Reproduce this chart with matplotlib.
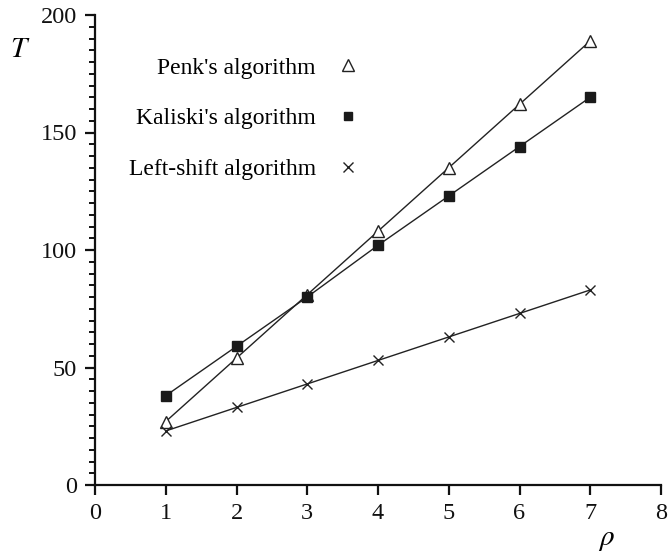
import matplotlib
matplotlib.use("Agg")
import matplotlib.pyplot as plt
from matplotlib.lines import Line2D
from matplotlib.ticker import MultipleLocator

plt.rcParams['font.family'] = ['Liberation Serif', 'DejaVu Serif']
plt.rcParams['mathtext.fontset'] = 'stix'

rho = [1, 2, 3, 4, 5, 6, 7]
penk = [27, 54, 81, 108, 135, 162, 189]
kaliski = [38, 59, 80, 102, 123, 144, 165]
leftshift = [23, 33, 43, 53, 63, 73, 83]
labels = ["Penk's algorithm", "Kaliski's algorithm", "Left-shift algorithm"]
xticks = [0, 1, 2, 3, 4, 5, 6, 7, 8]
yticks = [0, 50, 100, 150, 200]

W, H = 668, 555
fig = plt.figure(figsize=(W / 100, H / 100), dpi=100)
ax = fig.add_axes([95 / W, 1 - 485 / H, (661 - 95) / W, (485 - 15) / H])

lw = 1.0
ax.plot(rho, penk, color='#222222', lw=lw, marker='^', ms=8.5, mfc='white',
        mec='#222222', mew=1.0, clip_on=False, zorder=3)
ax.plot(rho, kaliski, color='#222222', lw=lw, marker='s', ms=6.5, mfc='#1a1a1a',
        mec='#1a1a1a', clip_on=False, zorder=3)
ax.plot(rho, leftshift, color='#222222', lw=lw, marker='x', ms=7.5, mew=1.0,
        mec='#222222', clip_on=False, zorder=3)

ax.set_xlim(0, 8)
ax.set_ylim(0, 200)
ax.set_xticks(xticks)
ax.set_yticks(yticks)
ax.yaxis.set_minor_locator(MultipleLocator(5))
for s in ['top', 'right']:
    ax.spines[s].set_visible(False)
for s in ['left', 'bottom']:
    ax.spines[s].set_linewidth(1.6)
    ax.spines[s].set_color('#111111')
ax.tick_params(axis='both', which='major', direction='out', length=7, width=1.6,
               labelsize=17.5, colors='#111111', pad=6)
ax.tick_params(axis='y', which='minor', direction='out', length=4, width=1.4,
               colors='#111111')

handles = [
    Line2D([], [], ls='none', marker='^', ms=8, mfc='white', mec='#222222', mew=1.0),
    Line2D([], [], ls='none', marker='s', ms=5.5, mfc='#1a1a1a', mec='#1a1a1a'),
    Line2D([], [], ls='none', marker='x', ms=6.5, mec='#222222', mew=1.0),
]
fig.legend(handles, labels, loc='upper right', bbox_to_anchor=(357 / W, 1 - 57 / H),
           frameon=False, markerfirst=False, fontsize=17, handlelength=0.8,
           handletextpad=0.95, labelspacing=1.24, borderpad=0, borderaxespad=0)

fig.text(20 / W, 1 - 50 / H, r'$T$', fontsize=21, ha='center', va='center')
fig.text(606 / W, 1 - 540 / H, r'$\rho$', fontsize=21, ha='center', va='center')

fig.savefig('out.png', dpi=100)
